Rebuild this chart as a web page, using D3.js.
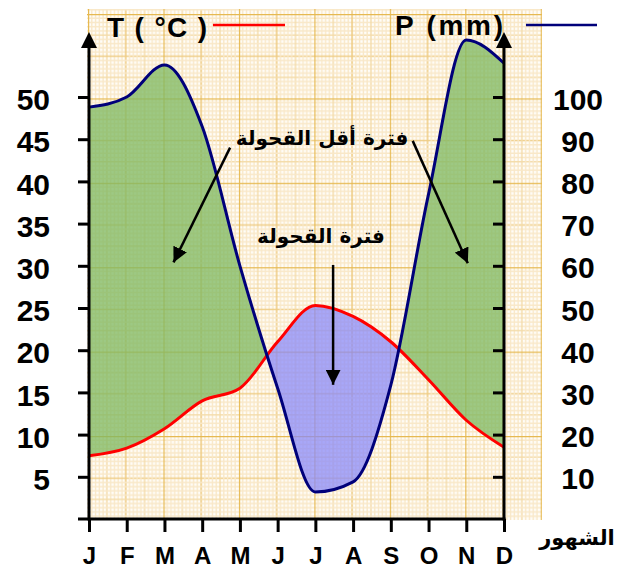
<!DOCTYPE html>
<html lang="ar">
<head>
    <meta charset="UTF-8">
    <title>Ombrothermic diagram</title>
    <script src="https://d3js.org/d3.v7.min.js"></script>
    <style>
        body { margin: 0; background: #fff; }
        svg { display: block; }
    </style>
</head>
<body>
<div id="chart"></div>
<script>
    // Chart values
    var months = ["J", "F", "M", "A", "M", "J", "J", "A", "S", "O", "N", "D"];
    var temperature = [7.5, 8.4, 10.7, 14, 15.5, 21, 25.3, 24, 21, 16.5, 11.7, 8.5];   // T (°C)
    var precipitation = [97.6, 100, 107.6, 93, 60, 31, 6.4, 8.8, 31.7, 77, 113.5, 108]; // P (mm)
    var tTicks = [5, 10, 15, 20, 25, 30, 35, 40, 45, 50];
    var pTicks = [10, 20, 30, 40, 50, 60, 70, 80, 90, 100];

    // annotations, in chart units (month index, T value)
    var labels = [
        { text: "فترة أقل القحولة", m: 6.18, t: 45.1 },
        { text: "فترة القحولة", m: 6.15, t: 33.5 }
    ];
    var arrows = [
        { m0: 3.74, t0: 44.0, m1: 2.24, t1: 30.4 },
        { m0: 8.58, t0: 44.8, m1: 10.04, t1: 30.3 },
        { m0: 6.47, t0: 30.1, m1: 6.47, t1: 15.9 }
    ];

    var width = 628, height = 574;
    var left = 89, right = 504, bottom = 519, top50 = 97;

    var svg = d3.select("#chart").append("svg")
        .attr("width", width)
        .attr("height", height);

    var x = d3.scaleLinear().domain([0, 11]).range([left, right]);
    var yT = d3.scaleLinear().domain([0, 50]).range([bottom, top50]);
    var yP = d3.scaleLinear().domain([0, 100]).range([bottom, top50]);

    // graph paper background
    var cellW = (x(1) - x(0)) * 2, cellH = yT(0) - yT(10);
    var defs = svg.append("defs");
    var pat = defs.append("pattern")
        .attr("id", "paper")
        .attr("patternUnits", "userSpaceOnUse")
        .attr("x", 88).attr("y", 14)
        .attr("width", cellW).attr("height", cellH);
    pat.append("rect").attr("width", cellW).attr("height", cellH).attr("fill", "#fffdf8");
    for (var i = 0; i < 20; i++) {
        var col = i % 10 === 0 ? "#efcd86" : (i % 5 === 0 ? "#f4dcaa" : "#f9e8c8");
        var sw = i % 10 === 0 ? 1.6 : 1.4;
        pat.append("line").attr("x1", i * cellW / 20).attr("x2", i * cellW / 20)
            .attr("y1", 0).attr("y2", cellH).attr("stroke", col).attr("stroke-width", sw);
        pat.append("line").attr("y1", i * cellH / 20).attr("y2", i * cellH / 20)
            .attr("x1", 0).attr("x2", cellW).attr("stroke", col).attr("stroke-width", sw);
    }
    pat.append("line").attr("x1", 0).attr("x2", 0).attr("y1", 0).attr("y2", cellH)
        .attr("stroke", "#e6b951").attr("stroke-width", 2.4);
    pat.append("line").attr("x1", 0).attr("x2", cellW).attr("y1", 0).attr("y2", 0)
        .attr("stroke", "#e6b951").attr("stroke-width", 2.4);

    svg.append("rect")
        .attr("x", 87).attr("y", 9)
        .attr("width", 542 - 87).attr("height", 520 - 9)
        .attr("fill", "url(#paper)");

    var data = months.map(function(m, i) {
        return { i: i, t: temperature[i], p: precipitation[i] };
    });
    var curve = d3.curveMonotoneX;

    // clip regions above each curve
    defs.append("clipPath").attr("id", "aboveT").append("path")
        .attr("d", d3.area().curve(curve)
            .x(function(d) { return x(d.i); })
            .y0(0)
            .y1(function(d) { return yT(d.t); })(data));
    defs.append("clipPath").attr("id", "aboveP").append("path")
        .attr("d", d3.area().curve(curve)
            .x(function(d) { return x(d.i); })
            .y0(0)
            .y1(function(d) { return yP(d.p); })(data));

    // humid period: P above 2T
    svg.append("path")
        .attr("clip-path", "url(#aboveT)")
        .attr("d", d3.area().curve(curve)
            .x(function(d) { return x(d.i); })
            .y0(bottom)
            .y1(function(d) { return yP(d.p); })(data))
        .attr("fill", "rgb(126,184,96)")
        .attr("fill-opacity", 0.76);

    // dry period: 2T above P
    svg.append("path")
        .attr("clip-path", "url(#aboveP)")
        .attr("d", d3.area().curve(curve)
            .x(function(d) { return x(d.i); })
            .y0(bottom)
            .y1(function(d) { return yT(d.t); })(data))
        .attr("fill", "rgb(134,134,250)")
        .attr("fill-opacity", 0.72);

    svg.append("path")
        .attr("d", d3.line().curve(curve)
            .x(function(d) { return x(d.i); })
            .y(function(d) { return yT(d.t); })(data))
        .attr("fill", "none")
        .attr("stroke", "#ff0000")
        .attr("stroke-width", 3);

    svg.append("path")
        .attr("d", d3.line().curve(curve)
            .x(function(d) { return x(d.i); })
            .y(function(d) { return yP(d.p); })(data))
        .attr("fill", "none")
        .attr("stroke", "#00007a")
        .attr("stroke-width", 3);

    // axes
    var styleAxis = function(g) {
        g.select(".domain").remove();
        g.selectAll(".tick line").attr("stroke", "#000").attr("stroke-width", 3);
        g.selectAll(".tick text")
            .attr("fill", "#000")
            .style("font-family", "'Liberation Sans', Arial, sans-serif")
            .style("font-weight", "bold");
    };

    svg.append("g")
        .attr("transform", "translate(" + left + ",0)")
        .call(d3.axisLeft(yT).tickValues(tTicks).tickSize(11).tickPadding(28).tickSizeOuter(0))
        .call(styleAxis)
        .selectAll(".tick text").style("font-size", "30px").attr("dy", "0.42em");

    svg.append("g")
        .attr("transform", "translate(" + right + ",0)")
        .call(d3.axisRight(yP).tickValues(pTicks).tickSize(-11).tickPadding(74).tickSizeOuter(0))
        .call(styleAxis)
        .selectAll(".tick text").style("font-size", "30px").attr("text-anchor", "middle").attr("dy", "0.4em");

    svg.append("g")
        .attr("transform", "translate(0," + bottom + ")")
        .call(d3.axisBottom(x).tickValues(d3.range(12)).tickFormat(function(i) { return months[i]; })
            .tickSize(13).tickPadding(15).tickSizeOuter(0))
        .call(styleAxis)
        .selectAll(".tick text").style("font-size", "24px");

    svg.append("line").attr("x1", 78).attr("x2", right + 1.5).attr("y1", bottom).attr("y2", bottom)
        .attr("stroke", "#000").attr("stroke-width", 3);
    svg.append("line").attr("x1", left).attr("x2", left).attr("y1", bottom + 1.5).attr("y2", 42)
        .attr("stroke", "#000").attr("stroke-width", 3);
    svg.append("line").attr("x1", right).attr("x2", right).attr("y1", bottom + 1.5).attr("y2", 42)
        .attr("stroke", "#000").attr("stroke-width", 3);
    [left, right].forEach(function(ax) {
        svg.append("path")
            .attr("d", "M" + ax + ",32L" + (ax - 8) + ",48L" + (ax + 8) + ",48Z")
            .attr("fill", "#000");
    });

    // legend titles
    svg.append("text")
        .attr("x", 107).attr("y", 37)
        .attr("textLength", 100).attr("lengthAdjust", "spacing")
        .style("font-family", "'Liberation Sans', Arial, sans-serif")
        .style("font-weight", "bold").style("font-size", "28px")
        .text("T ( °C )");
    svg.append("line").attr("x1", 213).attr("x2", 285).attr("y1", 25).attr("y2", 25)
        .attr("stroke", "#ff0000").attr("stroke-width", 2.5);

    svg.append("text")
        .attr("x", 395).attr("y", 35)
        .attr("textLength", 108).attr("lengthAdjust", "spacing")
        .style("font-family", "'Liberation Sans', Arial, sans-serif")
        .style("font-weight", "bold").style("font-size", "28px")
        .text("P (mm)");
    svg.append("line").attr("x1", 526).attr("x2", 597).attr("y1", 25).attr("y2", 25)
        .attr("stroke", "#00007a").attr("stroke-width", 2.5);

    svg.append("text")
        .attr("x", 577).attr("y", 545)
        .attr("text-anchor", "middle")
        .style("font-family", "'DejaVu Sans', sans-serif")
        .style("font-weight", "bold").style("font-size", "21px")
        .text("الشهور");

    // annotations
    defs.append("marker")
        .attr("id", "head")
        .attr("viewBox", "0 0 10 10")
        .attr("refX", 10).attr("refY", 5)
        .attr("markerWidth", 15).attr("markerHeight", 15)
        .attr("markerUnits", "userSpaceOnUse")
        .attr("orient", "auto")
        .append("path").attr("d", "M0,0L10,5L0,10Z").attr("fill", "#000");

    arrows.forEach(function(a) {
        svg.append("line")
            .attr("x1", x(a.m0)).attr("y1", yT(a.t0))
            .attr("x2", x(a.m1)).attr("y2", yT(a.t1))
            .attr("stroke", "#000").attr("stroke-width", 2.5)
            .attr("marker-end", "url(#head)");
    });

    labels.forEach(function(l) {
        svg.append("text")
            .attr("x", x(l.m)).attr("y", yT(l.t))
            .attr("text-anchor", "middle")
            .attr("dy", "0.35em")
            .attr("direction", "rtl")
            .style("font-family", "'DejaVu Sans', sans-serif")
            .style("font-weight", "bold").style("font-size", "20px")
            .text(l.text);
    });
</script>
</body>
</html>
